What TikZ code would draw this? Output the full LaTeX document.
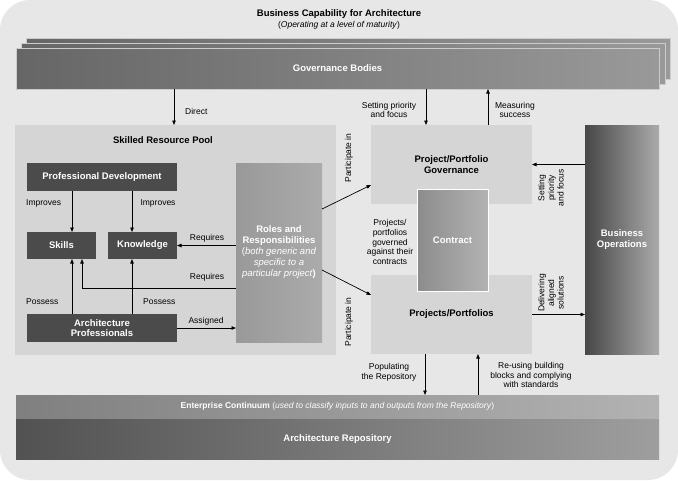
\documentclass[tikz,border=0pt]{standalone}
\usepackage{fontspec}
\setmainfont{Liberation Sans}
\usetikzlibrary{arrows.meta,positioning}

\definecolor{bgGrey}{HTML}{E7E7E7}
\definecolor{poolGrey}{HTML}{D5D5D5}
\definecolor{boxDark}{HTML}{4B4B4B}

\newcommand\bigtxt{\fontsize{9.5}{11}\selectfont}
\newcommand\smalltxt{\fontsize{8.5}{9.6}\selectfont}

\begin{document}
\begin{tikzpicture}[x=1pt, y=-1pt,
    box/.style={inner sep=0pt, outer sep=0pt, anchor=north west, align=center},
    darkbox/.style={box, fill=boxDark, text=white, font=\bigtxt\bfseries},
    lightbox/.style={box, fill=poolGrey, font=\bigtxt\bfseries},
    layer/.style={draw=white!80!black, line width=0.6pt},
    lbl/.style={font=\smalltxt, align=center, inner sep=0pt},
    arr/.style={-{Triangle[length=4.5pt, width=3.5pt]}, line width=0.7pt},
]

\useasboundingbox (0,0) rectangle (678,480);

% Background
\fill[white] (0,0) rectangle (678,480);
\fill[bgGrey, rounded corners=30pt] (0,0) rectangle (678,480);

% Title
\node[font=\bigtxt\bfseries] (title) at (339,14) {Business Capability for Architecture};
\node[font=\smalltxt, inner sep=0pt] (subtitle) at (339,25.5) {(\textit{Operating at a level of maturity})};

% Governance Bodies -- stacked layers
\shade[layer, left color=black!60, right color=black!40] (26,38) rectangle (670,79);
\shade[layer, left color=black!60, right color=black!40] (21,43) rectangle (665,84);
\node[box, minimum width=643pt, minimum height=41pt, left color=black!60, right color=black!40,
    draw=white!80!black, line width=0.6pt, text=white, font=\bigtxt\bfseries]
    (gov) at (16,48) {Governance Bodies};

% Skilled Resource Pool
\node[box, fill=poolGrey, minimum width=321pt, minimum height=230pt] (pool) at (15,125) {};
\node[font=\bigtxt\bfseries] (poolname) at (163,140) {Skilled Resource Pool};

\node[darkbox, minimum width=150pt, minimum height=28pt] (pd) at (27,163) {Professional Development};
\node[darkbox, minimum width=69pt, minimum height=27pt] (skills) at (27,232) {Skills};
\node[darkbox, minimum width=69pt, minimum height=27pt] (know) at (108,232) {Knowledge};
\node[darkbox, minimum width=150pt, minimum height=28pt] (ap) at (27,314) {Architecture\\[-1pt]Professionals};
\node[box, minimum width=86pt, minimum height=179pt, left color=black!40, right color=black!33,
    text=white, font=\bigtxt\bfseries] (roles) at (236,163)
    {Roles and\\Responsibilities\\\mdseries(\textit{both generic and}\\\textit{\mdseries specific to a}\\\textit{\mdseries particular project})};

% Project side
\node[lightbox, minimum width=161pt, minimum height=79pt] (ppg) at (371,125) {Project/Portfolio\\Governance};
\node[lightbox, minimum width=161pt, minimum height=79pt] (pp) at (371,275) {Projects/Portfolios};
\node[box, minimum width=71pt, minimum height=102pt, left color=black!45, right color=black!30,
    draw=white, line width=0.8pt, text=white, font=\bigtxt\bfseries] (contract) at (417,189) {Contract};
\node[box, minimum width=74pt, minimum height=229pt, left color=black!72, right color=black!33,
    text=white, font=\bigtxt\bfseries] (bo) at (585,125) {Business\\Operations};

% Repository bars
\node[box, minimum width=643pt, minimum height=23pt, left color=black!50, right color=black!30,
    text=white, font=\smalltxt] (ec) at (16,395)
    {\textbf{Enterprise Continuum} (\textit{used to classify inputs to and outputs from the Repository})};
\node[box, minimum width=643pt, minimum height=40pt, left color=black!68, right color=black!38,
    text=white, font=\bigtxt\bfseries] (ar) at (16,419) {Architecture Repository};

% Column positions for arrows
\coordinate (cDirect) at (174,0);
\coordinate (cSet) at (426,0);
\coordinate (cMeas) at (488,0);
\coordinate (cLeft) at (72,0);
\coordinate (cRight) at (132,0);
\coordinate (cReq) at (82,288);
\coordinate (cPop) at (425,0);
\coordinate (cReuse) at (478,0);

% Arrows
\draw[arr] (gov.south -| cDirect) -- (pool.north -| cDirect);
\draw[arr] (gov.south -| cSet) -- (ppg.north -| cSet);
\draw[arr] (ppg.north -| cMeas) -- (gov.south -| cMeas);
\draw[arr] (pd.south -| cLeft) -- (skills.north -| cLeft);
\draw[arr] (pd.south -| cRight) -- (know.north -| cRight);
\draw[arr] (ap.north -| cLeft) -- (skills.south -| cLeft);
\draw[arr] (ap.north -| cRight) -- (know.south -| cRight);
\draw[arr] (roles.west |- know.east) -- (know.east);
\draw[arr] (roles.west |- cReq) -| (cReq |- skills.south);
\draw[arr] (ap.east) -- (roles.west |- ap.east);
\draw[arr] ([yshift=43.5pt]roles.east) -- ([yshift=-20.5pt]ppg.west);
\draw[arr] ([yshift=-17.5pt]roles.east) -- ([yshift=19.5pt]pp.west);
\draw[arr] (bo.west |- ppg.east) -- (ppg.east);
\draw[arr] (pp.east) -- (bo.west |- pp.east);
\draw[arr] (pp.south -| cPop) -- (ec.north -| cPop);
\draw[arr] (ec.north -| cReuse) -- (pp.south -| cReuse);

% Labels
\node[lbl, anchor=west] (lDirect) at (185,111) {Direct};
\node[lbl] (lSet) at (389,110) {Setting priority\\and focus};
\node[lbl] (lMeas) at (515,110) {Measuring\\success};
\node[lbl, anchor=west] (lImp1) at (26,203) {Improves};
\node[lbl] (lImp2) at (158,203) {Improves};
\node[lbl, anchor=west] (lPos1) at (26,302) {Possess};
\node[lbl, anchor=west] (lPos2) at (143,302) {Possess};
\node[lbl] (lReq1) at (207,238) {Requires};
\node[lbl] (lReq2) at (207,277) {Requires};
\node[lbl] (lAss) at (206,321) {Assigned};
\node[lbl, rotate=90] (lPart1) at (349,158) {Participate in};
\node[lbl, rotate=90] (lPart2) at (349,322) {Participate in};
\node[lbl] (lGov) at (390,242) {Projects/\\portfolios\\governed\\against their\\contracts};
\node[lbl, rotate=90] (lSetBo) at (551,188) {Setting\\priority\\and focus};
\node[lbl, rotate=90] (lDel) at (551,293) {Delivering\\aligned\\solutions};
\node[lbl] (lPop) at (389,372) {Populating\\the Repository};
\node[lbl] (lReuse) at (531,375) {Re-using building\\blocks and complying\\with standards};

\end{tikzpicture}
\end{document}
